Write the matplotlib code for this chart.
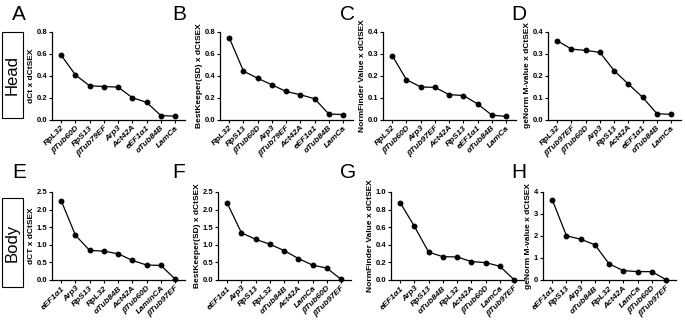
import matplotlib
matplotlib.use('Agg')
import matplotlib.pyplot as plt
from matplotlib.patches import Rectangle

plt.rcParams['font.family'] = ['Liberation Sans', 'DejaVu Sans']

# Head panels
genesA = ['RpL32', 'βTub60D', 'RpS13', 'βTub79EF', 'Arp3', 'Act42A', 'eEF1α1', 'αTub84B', 'LamCa']
valsA = [0.584, 0.405, 0.306, 0.300, 0.294, 0.198, 0.156, 0.036, 0.030]
genesB = ['RpL32', 'RpS13', 'βTub60D', 'Arp3', 'βTub79EF', 'Act42A', 'eEF1α1', 'αTub84B', 'LamCa']
valsB = [0.743, 0.440, 0.375, 0.315, 0.255, 0.225, 0.189, 0.050, 0.045]
genesC = ['RpL32', 'βTub60D', 'Arp3', 'βTub97EF', 'Act42A', 'RpS13', 'eEF1α1', 'αTub84B', 'LamCa']
valsC = [0.290, 0.181, 0.148, 0.146, 0.113, 0.109, 0.071, 0.020, 0.014]
genesD = ['RpL32', 'βTub97EF', 'βTub60D', 'Arp3', 'RpS13', 'Act42A', 'eEF1α1', 'αTub84B', 'LamCa']
valsD = [0.358, 0.320, 0.314, 0.305, 0.222, 0.161, 0.101, 0.027, 0.023]

# Body panels
genesE = ['eEF1α1', 'Arp3', 'RpS13', 'RpL32', 'αTub84B', 'Act42A', 'βTub60D', 'LaminCA', 'βTub97EF']
valsE = [2.25, 1.27, 0.84, 0.82, 0.745, 0.557, 0.425, 0.415, 0.03]
genesF = ['eEF1α1', 'Arp3', 'RpS13', 'RpL32', 'αTub84B', 'Act42A', 'LamCa', 'βTub60D', 'βTub97EF']
valsF = [2.18, 1.34, 1.156, 1.015, 0.836, 0.61, 0.423, 0.338, 0.02]
genesG = ['eEF1α1', 'Arp3', 'RpS13', 'αTub84B', 'RpL32', 'Act42A', 'βTub60D', 'LamCa', 'βTub97EF']
valsG = [0.878, 0.608, 0.316, 0.265, 0.262, 0.209, 0.198, 0.156, 0.004]
genesH = ['eEF1α1', 'RpS13', 'Arp3', 'αTub84B', 'RpL32', 'Act42A', 'LamCa', 'βTub60D', 'βTub97EF']
valsH = [3.65, 2.01, 1.855, 1.60, 0.73, 0.426, 0.38, 0.38, 0.015]

ylabels = ['dCt x dCtSEX', 'BestKeeper(SD) x dCtSEX', 'NormFinder Value x dCtSEX', 'geNorm M-value x dCtSEX',
           'dCT x dCtSEX', 'BestKeeper(SD) x dCtSEX', 'NormFinder Value x dCtSEX', 'geNorm M-value x dCtSEX']
letters = ['A', 'B', 'C', 'D', 'E', 'F', 'G', 'H']
yticks = [[0, 0.2, 0.4, 0.6, 0.8], [0, 0.2, 0.4, 0.6, 0.8], [0, 0.1, 0.2, 0.3, 0.4], [0, 0.1, 0.2, 0.3, 0.4],
          [0, 0.5, 1.0, 1.5, 2.0, 2.5], [0, 0.5, 1.0, 1.5, 2.0, 2.5], [0, 0.2, 0.4, 0.6, 0.8, 1.0], [0, 1, 2, 3, 4]]
yfmt = ['%.1f'] * 7 + ['%d']
genes = [genesA, genesB, genesC, genesD, genesE, genesF, genesG, genesH]
vals = [valsA, valsB, valsC, valsD, valsE, valsF, valsG, valsH]

W, H = 685, 323
fig = plt.figure(figsize=(W / 100, H / 100), dpi=100)

lefts = [52, 220, 383, 548, 52, 218, 391, 543]
tops = [31.5, 31.5, 31.5, 31.5, 192, 192, 192, 192]
aw, ah = 133, 88
letter_x = [12, 172, 340, 511, 12, 172, 340, 511]
letter_y = [5, 5, 5, 5, 163, 163, 163, 163]

for i in range(8):
    ax = fig.add_axes([lefts[i] / W, 1 - (tops[i] + ah) / H, aw / W, ah / H])
    x = list(range(len(genes[i])))
    ax.plot(x, vals[i], color='black', lw=0.9, marker='o', ms=3.2, clip_on=False)
    ax.set_xlim(-0.65, 8.7)
    ax.set_ylim(0, yticks[i][-1])
    ax.set_yticks(yticks[i])
    ax.set_yticklabels([yfmt[i] % t for t in yticks[i]], fontsize=5.5, fontweight='bold')
    ax.set_xticks(x)
    ax.set_xticklabels(genes[i], rotation=45, ha='right', rotation_mode='anchor',
                       fontsize=6, fontweight='bold', fontstyle='italic')
    ax.set_ylabel(ylabels[i], fontsize=6, fontweight='bold', labelpad=1)
    ax.spines['top'].set_visible(False)
    ax.spines['right'].set_visible(False)
    ax.spines['left'].set_linewidth(0.9)
    ax.spines['bottom'].set_linewidth(0.9)
    ax.tick_params(axis='both', direction='out', length=2.5, width=0.8, pad=1)
    fig.text(letter_x[i] / W, 1 - letter_y[i] / H, letters[i], fontsize=15, ha='left', va='top')

# Row labels in boxes
for (y0, y1, txt) in [(32, 118, 'Head'), (198, 287, 'Body')]:
    rect = Rectangle((2 / W, 1 - y1 / H), 21 / W, (y1 - y0) / H, transform=fig.transFigure,
                     fill=False, edgecolor='black', lw=0.8)
    fig.patches.append(rect)
    fig.text(12.5 / W, 1 - (y0 + y1) / 2 / H, txt, rotation=90, fontsize=12, ha='center', va='center')

fig.savefig('out.png', dpi=100)
